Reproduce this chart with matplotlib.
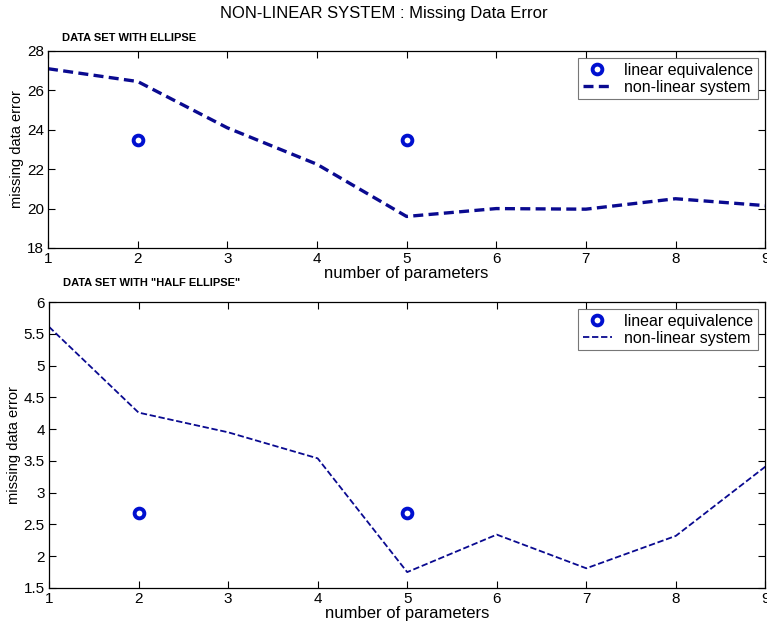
import numpy as np
import matplotlib.pyplot as plt

# Data
params = [1, 2, 3, 4, 5, 6, 7, 8, 9]
ellipse_err = [27.1, 26.45, 24.1, 22.25, 19.6, 20.0, 19.97, 20.5, 20.15]
half_err = [5.61, 4.26, 3.95, 3.54, 1.75, 2.34, 1.81, 2.32, 3.41]

lin_params = [2, 5]
ellipse_lin = [23.5, 23.5]
half_lin = [2.68, 2.68]

plt.rcParams['font.family'] = ['Liberation Sans', 'DejaVu Sans']

fig = plt.figure(figsize=(7.67, 6.24), dpi=100)
ax1 = fig.add_axes([0.0626, 0.6026, 0.935, 0.3157])
ax2 = fig.add_axes([0.0639, 0.0577, 0.934, 0.4583])

fig.text(0.5, 0.978, 'NON-LINEAR SYSTEM : Missing Data Error',
         ha='center', va='center', fontsize=12)


def draw_panel(ax, y, y_lin, lw, ylim, yticks, ytick_labels, subtitle):
    ax.plot(lin_params, y_lin, linestyle='none', marker='o', markersize=7,
            markerfacecolor='white', markeredgecolor='#0010d0',
            markeredgewidth=2.8, label='linear equivalence')
    ax.plot(params, y, linestyle='--', color='#0a0a90', linewidth=lw,
            dashes=(3, 1.6) if lw > 2 else (3.5, 1.5),
            label='non-linear system')
    ax.set_xlim(1, 9)
    ax.set_ylim(*ylim)
    ax.set_xticks(params)
    ax.set_yticks(yticks)
    ax.set_yticklabels(ytick_labels)
    ax.tick_params(direction='in', top=True, right=True, labelsize=11,
                   length=5, width=0.8, pad=3)
    ax.set_xlabel('number of parameters', fontsize=12, labelpad=0)
    ax.set_ylabel('missing data error', fontsize=10.5, labelpad=2)
    for s in ax.spines.values():
        s.set_linewidth(0.9)
    leg = ax.legend(loc='upper right', fontsize=11.5, frameon=True,
                    fancybox=False, edgecolor='#555555', handlelength=1.8,
                    borderpad=0.3, labelspacing=0.1, handletextpad=0.8,
                    borderaxespad=0.45)
    leg.get_frame().set_linewidth(0.8)
    ax.text(0.02, 1.065, subtitle, transform=ax.transAxes, fontsize=8,
            fontweight='bold', va='center')


draw_panel(ax1, ellipse_err, ellipse_lin, 2.4, (18, 28),
           [18, 20, 22, 24, 26, 28], ['18', '20', '22', '24', '26', '28'],
           'DATA SET WITH ELLIPSE')
draw_panel(ax2, half_err, half_lin, 1.3, (1.5, 6),
           [1.5, 2, 2.5, 3, 3.5, 4, 4.5, 5, 5.5, 6],
           ['1.5', '2', '2.5', '3', '3.5', '4', '4.5', '5', '5.5', '6'],
           'DATA SET WITH "HALF ELLIPSE"')

fig.savefig('out.png', dpi=100)
